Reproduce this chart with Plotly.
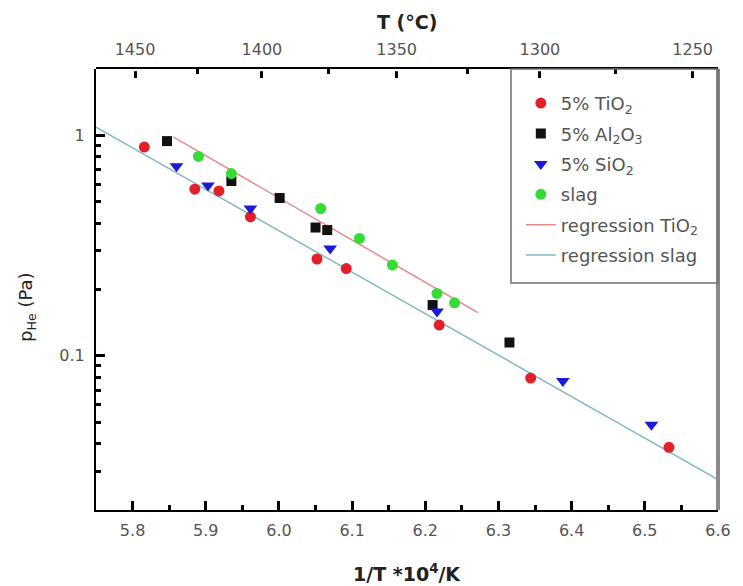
import plotly.graph_objects as go

# Helium partial pressure vs. reciprocal temperature for the different additions
tio2_x = [5.816, 5.885, 5.918, 5.961, 6.052, 6.092, 6.219, 6.344, 6.533]
tio2_y = [0.885, 0.570, 0.560, 0.427, 0.275, 0.249, 0.138, 0.0793, 0.0385]

al2o3_x = [5.847, 5.935, 6.001, 6.050, 6.066, 6.210, 6.315]
al2o3_y = [0.942, 0.621, 0.520, 0.382, 0.372, 0.170, 0.115]

sio2_x = [5.860, 5.903, 5.961, 6.070, 6.216, 6.388, 6.509]
sio2_y = [0.724, 0.592, 0.466, 0.307, 0.159, 0.077, 0.0487]

slag_x = [5.890, 5.935, 6.057, 6.110, 6.155, 6.216, 6.240]
slag_y = [0.803, 0.671, 0.466, 0.341, 0.258, 0.192, 0.174]

# Regression lines (end points)
reg_tio2_x = [5.856, 6.272]
reg_tio2_y = [0.982, 0.157]
reg_slag_x = [5.75, 6.60]
reg_slag_y = [1.09, 0.0275]

# Temperature scale on the top axis (°C)
temp_major = [1450, 1400, 1350, 1300, 1250]
temp_minor = [1425, 1375, 1325, 1275]

X_RANGE = [5.75, 6.6]


def inv_t(t_c):
    return 1e4 / (t_c + 273.15)


FONT = "DejaVu Sans"
TICK_FONT = dict(family=FONT, size=16, color="#555555")
MAJOR = dict(ticks="inside", ticklen=9, tickwidth=3, tickcolor="black")
MINOR = dict(ticks="inside", ticklen=5, tickwidth=3, tickcolor="black")

fig = go.Figure()

fig.add_trace(go.Scatter(
    x=reg_tio2_x, y=reg_tio2_y, mode="lines", name="regression TiO<sub>2</sub>",
    line=dict(color="#e58a8a", width=1.5), legendgroup="g5", legendrank=5))
fig.add_trace(go.Scatter(
    x=reg_slag_x, y=reg_slag_y, mode="lines", name="regression slag",
    line=dict(color="#84b8c8", width=1.5), legendgroup="g6", legendrank=6))

fig.add_trace(go.Scatter(
    x=tio2_x, y=tio2_y, mode="markers", name="5% TiO<sub>2</sub>",
    marker=dict(symbol="circle", size=11, color="#e3202a"),
    legendgroup="g1", legendrank=1))
fig.add_trace(go.Scatter(
    x=al2o3_x, y=al2o3_y, mode="markers", name="5% Al<sub>2</sub>O<sub>3</sub>",
    marker=dict(symbol="square", size=10, color="#111111"),
    legendgroup="g2", legendrank=2))
fig.add_trace(go.Scatter(
    x=sio2_x, y=sio2_y, mode="markers", name="5% SiO<sub>2</sub>",
    marker=dict(symbol="triangle-down", size=12, color="#1a1ad8"),
    legendgroup="g3", legendrank=3))
fig.add_trace(go.Scatter(
    x=slag_x, y=slag_y, mode="markers", name="slag",
    marker=dict(symbol="circle", size=11, color="#35dc35"),
    legendgroup="g4", legendrank=4))

# thin strip subplots along the top edge carrying the temperature scale
top_vals = [inv_t(t) for t in temp_major]
top_minor_vals = [inv_t(t) for t in temp_minor]
fig.add_trace(go.Scatter(
    x=top_vals, y=[0] * len(top_vals), xaxis="x2", yaxis="y2", mode="markers",
    marker=dict(opacity=0), showlegend=False, hoverinfo="skip"))
fig.add_trace(go.Scatter(
    x=top_minor_vals, y=[0] * len(top_minor_vals), xaxis="x3", yaxis="y3",
    mode="markers", marker=dict(opacity=0), showlegend=False, hoverinfo="skip"))

fig.update_layout(
    width=743, height=586,
    margin=dict(l=96, r=16, t=69, b=76),
    paper_bgcolor="white", plot_bgcolor="white",
    showlegend=True,
    legend=dict(
        x=0.683, y=0.964, xanchor="left", yanchor="top",
        bgcolor="rgba(0,0,0,0)", borderwidth=0,
        font=dict(family=FONT, size=18, color="#555555"),
        traceorder="grouped", tracegroupgap=4,
    ),
    xaxis=dict(
        domain=[0, 1], anchor="y",
        range=X_RANGE, dtick=0.1, tickformat=".1f", **MAJOR,
        minor=dict(dtick=0.05, **MINOR),
        showline=True, linecolor="black", linewidth=2,
        showgrid=False, zeroline=False,
        tickfont=TICK_FONT, ticklabelstandoff=5,
    ),
    yaxis=dict(
        domain=[0, 1], anchor="x",
        type="log", range=[-1.69897, 0.30103],
        tick0=0, dtick=1, **MAJOR,
        minor=dict(dtick="D1", **MINOR),
        showline=True, linecolor="black", linewidth=2,
        showgrid=False, zeroline=False,
        tickfont=TICK_FONT, ticklabelstandoff=6,
    ),
    xaxis2=dict(
        domain=[0, 1], anchor="y2", side="top",
        range=X_RANGE, tickmode="array",
        tickvals=top_vals, ticktext=[str(t) for t in temp_major],
        **MAJOR,
        showline=True, linecolor="black", linewidth=2,
        showgrid=False, zeroline=False,
        tickfont=TICK_FONT, ticklabelstandoff=6,
    ),
    yaxis2=dict(
        domain=[0.995, 1], anchor="x2", range=[-1, 1],
        visible=False, showgrid=False, zeroline=False,
    ),
    xaxis3=dict(
        domain=[0, 1], anchor="y3", side="top",
        range=X_RANGE, tickmode="array", tickvals=top_minor_vals,
        showticklabels=False, **MINOR,
        showline=False, showgrid=False, zeroline=False,
    ),
    yaxis3=dict(
        domain=[0.995, 1], anchor="x3", range=[-1, 1],
        visible=False, showgrid=False, zeroline=False,
    ),
)

# right frame edge and legend box
fig.add_shape(type="line", xref="paper", yref="paper", x0=1, x1=1, y0=0, y1=1,
              line=dict(color="#8a8a8a", width=4))
fig.add_shape(type="rect", xref="paper", yref="paper",
              x0=(517 - 96) / 631, x1=1, y0=(510 - 283) / 441, y1=1,
              line=dict(color="#707070", width=1.5))

# axis titles
fig.add_annotation(text="<b>T (°C)</b>", xref="paper", yref="paper",
                   x=0.5, y=(510 - 22) / 441, xanchor="center", yanchor="middle",
                   showarrow=False,
                   font=dict(family=FONT, size=19, color="#222222"))
fig.add_annotation(text="<b>1/T *10<sup>4</sup>/K</b>", xref="paper", yref="paper",
                   x=0.5, y=(510 - 573) / 441, xanchor="center", yanchor="middle",
                   showarrow=False,
                   font=dict(family=FONT, size=19, color="#222222"))
fig.add_annotation(text="p<sub>He</sub> (Pa)", xref="paper", yref="paper",
                   x=(26 - 96) / 631, y=(510 - 307) / 441,
                   xanchor="center", yanchor="middle", showarrow=False,
                   textangle=-90,
                   font=dict(family=FONT, size=18, color="#222222"))

fig.write_html("out.html")
